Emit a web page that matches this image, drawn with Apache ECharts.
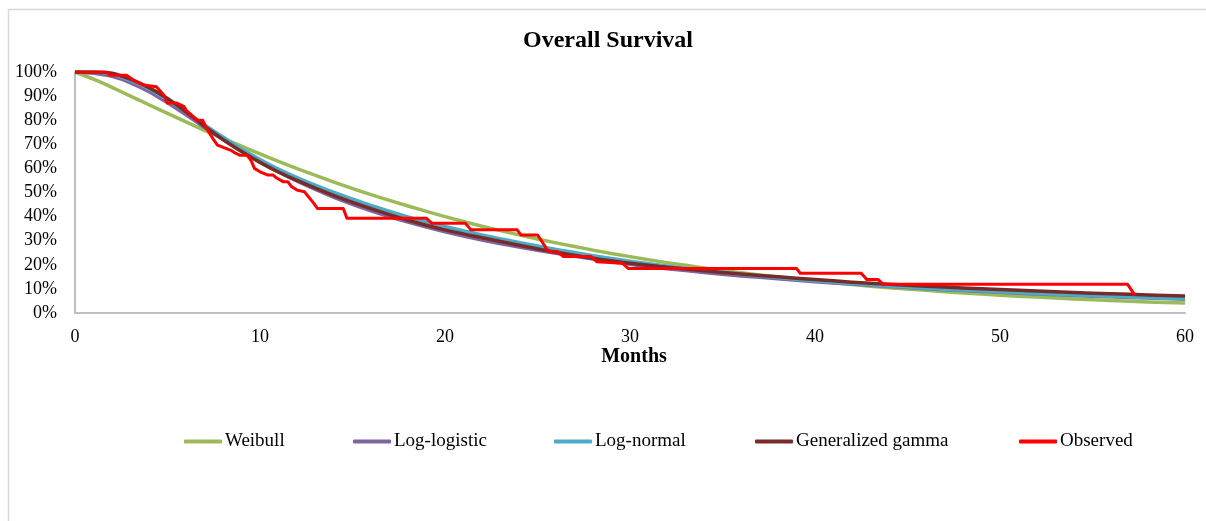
<!DOCTYPE html>
<html>
<head>
<meta charset="utf-8">
<title>Overall Survival</title>
<script src="https://cdn.jsdelivr.net/npm/echarts@6/dist/echarts.min.js"></script>
<style>
  html, body { margin: 0; padding: 0; background: #ffffff; }
  #chart { width: 1206px; height: 521px; }
</style>
</head>
<body>
<div id="chart"></div>
<script>
// Time grid (months) shared by the fitted parametric curves
const modelMonths = [0, 1, 2, 3, 4, 5, 6, 7, 8, 9, 10, 11, 12,
  14, 16, 18, 20, 22, 24, 26, 28, 30, 32, 34, 36, 38, 40,
  42, 44, 46, 48, 50, 52, 54, 56, 58, 60];

// Fitted survival (%) per distribution
const weibull = [100, 97.0, 93.6, 90.0, 86.4, 82.8, 79.3, 75.8, 72.5, 69.2, 66.0, 62.9, 59.9,
  54.3, 49.1, 44.4, 40.0, 36.0, 32.4, 29.1, 26.1, 23.4, 20.9, 18.7, 16.7, 14.9, 13.3,
  11.8, 10.5, 9.4, 8.3, 7.4, 6.6, 5.8, 5.2, 4.6, 4.1];
const logLogistic = [100, 99.5, 98.2, 95.5, 91.8, 87.2, 82.2, 77.0, 72.0, 67.2, 62.7, 58.5, 54.7,
  48.0, 42.4, 37.7, 33.7, 30.3, 27.4, 24.8, 22.4, 20.2, 18.4, 16.8, 15.4, 14.2, 13.0,
  12.0, 11.0, 10.1, 9.3, 8.6, 7.9, 7.3, 6.7, 6.2, 5.7];
const logNormal = [100, 100, 99.0, 96.5, 93.0, 88.5, 83.5, 78.0, 73.0, 68.0, 63.7, 59.7, 56.2,
  50.0, 44.6, 39.9, 35.9, 32.4, 29.3, 26.4, 23.8, 21.5, 19.5, 17.7, 16.1, 14.7, 13.4,
  12.2, 11.2, 10.3, 9.5, 8.8, 8.1, 7.5, 6.9, 6.4, 5.9];
const genGamma = [100, 100, 99.5, 97.0, 93.5, 89.0, 83.5, 77.5, 72.0, 67.0, 62.5, 58.5, 55.0,
  48.7, 43.3, 38.5, 34.5, 31.2, 28.1, 25.2, 22.7, 20.6, 19.0, 17.5, 16.2, 15.0, 13.9,
  12.8, 11.9, 11.1, 10.4, 9.7, 9.1, 8.5, 8.0, 7.5, 7.1];

// Kaplan-Meier estimate (months, survival %)
const observedMonths = [0, 1.7, 1.9, 2.8, 3.3, 3.7, 4.4, 4.8, 5.0, 5.5, 5.9, 6.0, 6.6, 6.9,
  7.1, 7.5, 7.7, 8.4, 8.7, 8.9, 9.3, 9.5, 9.7, 10.0, 10.4, 10.7, 10.9, 11.25, 11.5, 11.7,
  12.0, 12.4, 12.9, 13.1, 14.5, 14.7, 19.0, 19.3, 21.1, 21.4, 23.9, 24.1, 25.0, 25.6,
  26.1, 26.4, 27.9, 28.2, 29.6, 29.9, 39.0, 39.2, 42.5, 42.8, 43.4, 43.7, 56.9, 57.3];
const observedSurvival = [100, 100, 98.6, 98.6, 96.0, 94.6, 93.9, 90.5, 87.1, 87.1, 85.6, 84.2, 80.0, 80.0,
  76.8, 71.8, 69.7, 67.6, 66.2, 65.5, 65.5, 63.5, 60.0, 58.6, 57.3, 57.3, 56.0, 54.5, 54.5, 52.5,
  51.0, 50.3, 45.6, 43.4, 43.4, 39.3, 39.3, 37.2, 37.2, 34.5, 34.5, 32.4, 32.4, 25.4,
  25.4, 23.4, 23.4, 21.3, 20.6, 18.5, 18.5, 16.5, 16.5, 13.9, 13.9, 11.9, 11.9, 7.3];

const seriesNames = ['Weibull', 'Log-logistic', 'Log-normal', 'Generalized gamma', 'Observed'];
const seriesColors = ['#9BBB59', '#8064A2', '#4BACC6', '#772C2A', '#FF0000'];
const legendLeft = [179, 348, 549, 750, 1014];

const pairs = (xs, ys) => xs.map((x, i) => [x, ys[i]]);
const serif = '"Liberation Serif", "Times New Roman", serif';

const modelSeries = [weibull, logLogistic, logNormal, genGamma].map((vals, i) => ({
  name: seriesNames[i],
  type: 'line',
  data: pairs(modelMonths, vals),
  showSymbol: false,
  smooth: 0.25,
  lineStyle: { color: seriesColors[i], width: 3.5, join: 'round' },
  itemStyle: { color: seriesColors[i] },
  emphasis: { disabled: true },
  z: 2 + i
}));

const observedSeries = {
  name: seriesNames[4],
  type: 'line',
  data: pairs(observedMonths, observedSurvival),
  showSymbol: false,
  lineStyle: { color: seriesColors[4], width: 3, join: 'round' },
  itemStyle: { color: seriesColors[4] },
  emphasis: { disabled: true },
  z: 10
};

const chart = echarts.init(document.getElementById('chart'), null, { renderer: 'canvas' });
chart.setOption({
  animation: false,
  backgroundColor: '#ffffff',
  title: {
    text: 'Overall Survival',
    left: 523,
    top: 29,
    padding: 0,
    textStyle: { fontFamily: serif, fontSize: 24, fontWeight: 'bold', color: '#000000' }
  },
  graphic: [{
    type: 'rect',
    shape: { x: 8.5, y: 9.5, width: 1400, height: 700 },
    style: { fill: 'none', stroke: '#D9D9D9', lineWidth: 1.5 },
    silent: true,
    z: -10
  }],
  legend: seriesNames.map((name, i) => ({
    data: [name],
    left: legendLeft[i],
    top: 427,
    icon: 'roundRect',
    itemWidth: 38,
    itemHeight: 4,
    itemGap: 0,
    selectedMode: false,
    textStyle: { fontFamily: serif, fontSize: 19, color: '#000000', padding: [0, 0, 0, -2] }
  })),
  grid: { left: 75, right: 21, top: 72, bottom: 208, containLabel: false },
  xAxis: {
    type: 'value',
    min: 0,
    max: 60,
    interval: 10,
    name: 'Months',
    nameLocation: 'middle',
    nameGap: 29,
    nameTextStyle: { fontFamily: serif, fontSize: 20, fontWeight: 'bold', color: '#000000', padding: [0, 0, 0, 8] },
    axisLine: { show: true, lineStyle: { color: '#BFBFBF', width: 2 } },
    axisTick: { show: false },
    splitLine: { show: false },
    axisLabel: { fontFamily: serif, fontSize: 18, color: '#000000', margin: 15 }
  },
  yAxis: {
    type: 'value',
    min: 0,
    max: 100,
    interval: 10,
    axisLine: { show: true, lineStyle: { color: '#BFBFBF', width: 2 } },
    axisTick: { show: false },
    splitLine: { show: false },
    axisLabel: { fontFamily: serif, fontSize: 18, color: '#000000', margin: 18, formatter: '{value}%' }
  },
  series: [...modelSeries, observedSeries]
});
</script>
</body>
</html>
